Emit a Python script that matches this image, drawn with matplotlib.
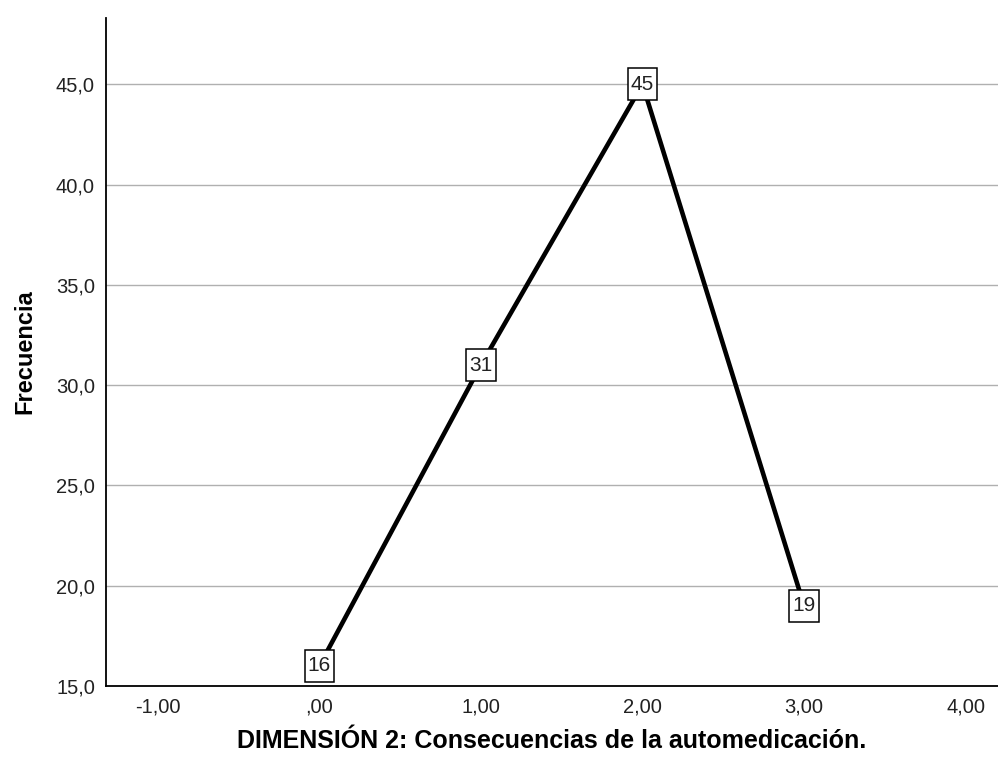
import matplotlib

matplotlib.use("Agg")
import matplotlib.pyplot as plt
from matplotlib.path import Path
from matplotlib.ticker import FuncFormatter

x_values = [0, 1, 2, 3]
frecuencia = [16, 31, 45, 19]
point_labels = ["16", "31", "45", "19"]
y_ticks = [15, 20, 25, 30, 35, 40, 45]
x_ticks = [-1, 0, 1, 2, 3, 4]

plt.rcParams["font.family"] = ["Liberation Sans", "DejaVu Sans"]


def tall_box(x0, y0, width, height, mutation_size):
    # SPSS-style label box: a bit more padding top/bottom than left/right
    px = 0.15 * mutation_size
    py = 0.32 * mutation_size
    x0, x1 = x0 - px, x0 + width + px
    y0, y1 = y0 - py, y0 + height + py
    return Path([(x0, y0), (x1, y0), (x1, y1), (x0, y1), (x0, y0)], closed=True)


fig = plt.figure(figsize=(9.98, 7.64), dpi=100)
ax = fig.add_axes([0.1062, 0.1021, 0.8938, 0.8743])

ax.plot(x_values, frecuencia, color="black", linewidth=3.3, solid_capstyle="butt", zorder=3)
for x, y, label in zip(x_values, frecuencia, point_labels):
    ax.text(x, y, label, ha="center", va="center", fontsize=15, color="#222222", zorder=4,
            bbox={"boxstyle": tall_box, "facecolor": "white", "edgecolor": "black", "linewidth": 1.1})


def comma_fmt(decimals):
    def fmt(value, pos):
        text = f"{value:.{decimals}f}".replace(".", ",")
        if text.startswith("0,"):
            text = text[1:]
        return text
    return FuncFormatter(fmt)


ax.set_xlim(-1.32, 4.2)
ax.set_ylim(15, 48.3)
ax.set_yticks(y_ticks)
ax.set_xticks(x_ticks)
ax.yaxis.set_major_formatter(comma_fmt(1))
ax.xaxis.set_major_formatter(comma_fmt(2))
ax.tick_params(axis="both", length=0, labelsize=14.5, colors="#222222")
ax.tick_params(axis="x", pad=8)
ax.tick_params(axis="y", pad=8)
ax.grid(axis="y", color="#b0b0b0", linewidth=1.0)
ax.set_axisbelow(True)
ax.spines[["top", "right"]].set_visible(False)
ax.spines["left"].set_linewidth(1.3)
ax.spines["bottom"].set_linewidth(1.3)

ax.set_ylabel("Frecuencia", fontsize=17, fontweight="bold", labelpad=14)
ax.set_xlabel("DIMENSIÓN 2: Consecuencias de la automedicación.", fontsize=18, fontweight="bold", labelpad=9)

fig.savefig("out.png", dpi=100)
